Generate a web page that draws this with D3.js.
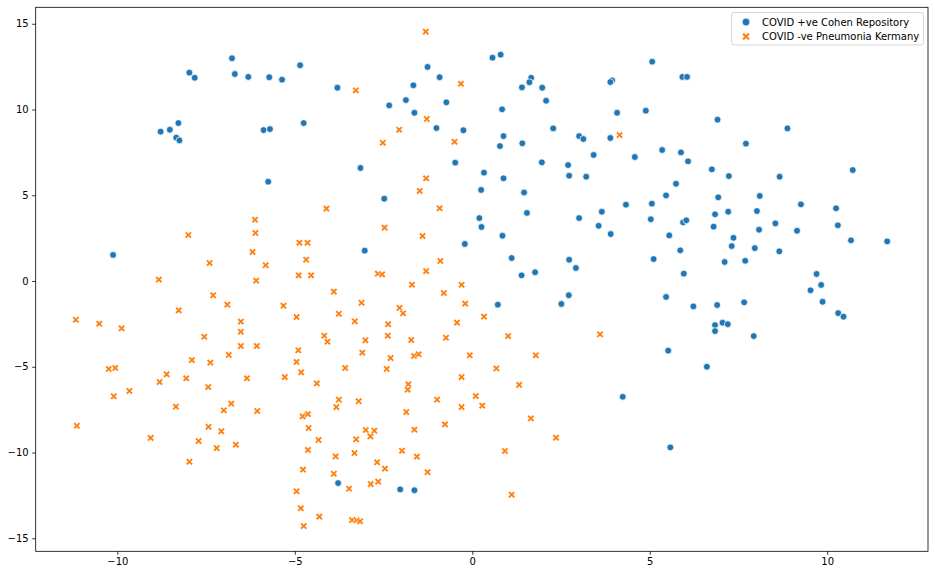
<!DOCTYPE html>
<html>
<head>
<meta charset="utf-8">
<script src="https://cdn.jsdelivr.net/npm/d3@7"></script>
<style>
  html, body { margin: 0; padding: 0; background: #fff; }
  svg { display: block; font-family: "DejaVu Sans", sans-serif; }
</style>
</head>
<body>
<svg id="chart" width="935" height="575"></svg>
<script>
// ---- Data ----
const seriesNames = ["COVID +ve Cohen Repository", "COVID -ve Pneumonia Kermany"];
const xTicks = [-10, -5, 0, 5, 10];
const yTicks = [-15, -10, -5, 0, 5, 10, 15];

const positiveX = [-6.77,-7.97,-7.82,-6.69,-6.31,-5.72,-5.36,-4.85,-3.80,-8.28,-8.52,-8.78,-8.34,-8.25,-5.88,-5.70,-4.75,-5.75,
  -1.26,-0.92,0.57,0.80,1.66,1.61,1.40,1.97,2.08,3.94,3.89,4.08,-1.66,-1.87,-2.34,-0.73,-1.63,-1.01,-0.25,0.84,2.28,0.88,0.78,1.41,
  3.01,3.13,3.89,3.42,1.96,2.70,2.73,3.21,-3.15,-0.48,0.33,0.88,0.25,1.46,5.07,5.92,6.05,4.89,6.91,8.88,7.71,5.35,5.88,4.58,6.08,
  6.75,7.23,8.66,10.72,5.74,5.46,-2.48,0.20,0.26,1.54,3.01,3.65,4.33,3.56,3.90,-0.21,0.85,-3.03,1.11,2.73,2.92,1.39,1.77,2.72,2.51,
  0.72,5.06,6.93,8.10,9.26,10.25,5.03,5.94,6.03,6.84,7.21,8.02,6.80,8.08,8.54,9.15,10.30,5.55,7.36,7.31,7.96,8.65,10.67,11.69,5.86,
  5.11,7.11,7.69,5.96,9.70,9.83,9.53,9.87,5.46,6.23,6.90,7.66,10.31,10.46,6.84,7.05,7.20,6.84,7.93,5.52,6.61,-10.12,-3.78,-2.03,-1.63,
  4.24,5.58];
const positiveY = [12.99,12.15,11.85,12.07,11.90,11.88,11.74,12.58,11.27,9.21,8.82,8.71,8.36,8.20,8.80,8.86,9.21,5.79,
  12.48,11.88,13.02,13.20,11.85,11.59,11.29,11.27,10.51,11.70,11.60,9.81,11.41,10.55,10.24,10.42,9.81,8.92,8.79,10.01,8.90,8.45,7.87,8.03,
  8.45,8.28,8.34,7.35,6.92,6.76,6.14,6.08,6.59,6.90,6.32,5.99,5.31,5.16,12.79,11.90,11.90,9.93,9.41,8.90,8.01,7.64,7.50,7.23,6.98,
  6.51,6.12,6.08,6.47,5.67,4.99,4.80,3.67,3.15,3.97,3.67,4.04,4.45,3.22,2.74,2.16,2.64,1.77,1.34,1.24,0.76,0.33,0.51,-0.83,-1.34,
  -1.38,4.51,4.88,4.96,4.47,4.24,3.60,3.42,3.54,3.89,4.04,4.08,3.17,2.99,3.36,2.93,3.25,2.66,2.52,2.04,1.92,1.73,2.37,2.31,1.79,
  1.28,1.11,1.18,0.43,0.41,-0.23,-0.54,-1.21,-0.93,-1.48,-1.40,-1.24,-1.87,-2.08,-2.57,-2.43,-2.52,-2.92,-3.21,-4.06,-5.00,1.52,-11.78,-12.15,-12.20,
  -6.75,-9.70];

const negativeX = [-1.31,-3.28,-0.32,4.15,-1.28,-2.06,-2.52,-0.50,-1.30,-1.48,-4.11,-6.12,-6.11,-8.00,-4.87,-4.64,-6.19,-4.68,-7.40,-5.82,
  -8.83,-6.09,-4.89,-4.54,-3.90,-7.30,-6.90,-5.32,-8.27,-4.95,-11.17,-10.51,-9.88,-6.52,-6.52,-7.55,-4.17,-4.08,-6.52,-6.07,-4.90,-6.86,
  -7.90,-7.38,-4.95,-10.24,-10.06,-0.92,-2.47,-1.40,-0.90,-1.30,-2.66,-2.54,-1.70,-0.30,-0.80,-3.12,-0.20,-3.76,-2.05,-1.95,-3.31,-2.37,
  -0.43,0.33,-2.38,-0.74,1.01,3.60,-3.01,-1.72,-3.10,-2.30,-1.64,-1.51,-0.07,1.79,-3.58,-2.41,0.68,-8.61,-8.81,-8.06,-7.44,-6.35,-5.28,
  -4.82,-4.38,-10.10,-9.66,-8.35,-6.79,-7.00,-6.06,-4.78,-4.63,-3.83,-11.14,-7.43,-7.07,-4.61,-9.06,-7.71,-7.20,-6.66,-4.33,-4.63,-3.85,
  -7.97,-4.77,-3.90,-4.95,-4.83,-4.31,-4.75,-0.30,1.32,-1.80,-1.82,-3.76,-3.20,-0.99,0.10,0.28,-0.30,-1.86,1.65,-0.77,-3.00,-2.76,-2.87,
  -1.63,-3.27,2.36,-3.32,-1.98,-1.56,0.92,-2.68,-2.46,-1.26,-3.47,-2.86,-2.65,1.11,-3.39,-3.26,-3.16];
const negativeY = [14.54,11.12,11.50,8.51,9.45,8.82,8.06,8.12,5.99,5.25,4.22,3.57,2.80,2.68,2.23,2.23,1.69,1.24,1.05,0.92,
  0.08,0.02,0.33,0.33,-0.62,-0.83,-1.38,-1.44,-1.71,-2.10,-2.26,-2.49,-2.76,-2.37,-2.96,-3.25,-3.19,-3.54,-3.79,-3.79,-4.04,-4.31,
  -4.61,-4.76,-4.72,-5.13,-5.07,4.24,3.11,2.62,1.17,0.58,0.43,0.39,-0.22,-0.22,-0.70,-1.27,-1.32,-1.91,-1.57,-1.88,-2.35,-2.52,
  -2.43,-2.08,-3.19,-3.31,-3.21,-3.11,-3.46,-3.44,-4.18,-4.49,-4.37,-4.27,-4.33,-4.33,-5.07,-5.13,-5.10,-5.44,-5.89,-5.67,-6.18,-5.67,-5.60,
  -5.32,-5.97,-6.72,-6.41,-7.33,-7.15,-7.54,-7.58,-7.89,-7.76,-7.35,-8.44,-8.50,-8.76,-8.57,-9.15,-9.33,-9.74,-9.55,-9.27,-9.85,-10.23,
  -10.54,-11.00,-11.24,-12.26,-13.25,-13.74,-14.29,-5.60,-6.06,-6.02,-6.34,-6.92,-7.01,-6.92,-6.71,-7.27,-7.35,-7.64,-8.01,-8.36,-8.69,-8.73,-9.06,
  -8.67,-9.23,-9.14,-10.03,-9.90,-10.24,-9.91,-10.57,-10.94,-11.15,-12.11,-11.84,-11.70,-12.46,-13.94,-13.94,-14.01];

const colors = ["#1f77b4", "#ff7f0e"];

// ---- Layout ----
const svg = d3.select("#chart");
const plotLeft = 35.7, plotRight = 928, plotTop = 7.3, plotBottom = 551.3;

const x = d3.scaleLinear().domain([-12.30, 12.84]).range([plotLeft, plotRight]);
const y = d3.scaleLinear().domain([-15.76, 15.96]).range([plotBottom, plotTop]);

const positive = positiveX.map((v, i) => ({x: v, y: positiveY[i]}));
const negative = negativeX.map((v, i) => ({x: v, y: negativeY[i]}));

// Filled "X" marker path (matplotlib 'X')
function xPath(L, w) {
  const pts = [[w,L],[w,w],[L,w],[L,-w],[w,-w],[w,-L],[-w,-L],[-w,-w],[-L,-w],[-L,w],[-w,w],[-w,L]];
  const c = Math.SQRT1_2;
  return "M" + pts.map(([a,b]) => [(a - b) * c, (a + b) * c].map(v => v.toFixed(3)).join(",")).join("L") + "Z";
}
const xMarker = xPath(3.9, 1.15);

// points
const g = svg.append("g");
g.selectAll("circle.pos").data(positive).join("circle")
  .attr("class", "pos")
  .attr("cx", d => x(d.x)).attr("cy", d => y(d.y))
  .attr("r", 3.4)
  .attr("fill", colors[0])
  .attr("stroke", "#fff").attr("stroke-width", 0.75);

g.selectAll("path.neg").data(negative).join("path")
  .attr("class", "neg")
  .attr("transform", d => `translate(${x(d.x)},${y(d.y)})`)
  .attr("d", xMarker)
  .attr("fill", colors[1])
  .attr("stroke", "#fff").attr("stroke-width", 0.6);

// axes
const fmt = d3.format("d");
const xAxis = svg.append("g")
  .attr("transform", `translate(0,${plotBottom})`)
  .call(d3.axisBottom(x).tickValues(xTicks).tickSize(3.5).tickPadding(3.5).tickFormat(d => fmt(d)));
const yAxis = svg.append("g")
  .attr("transform", `translate(${plotLeft},0)`)
  .call(d3.axisLeft(y).tickValues(yTicks).tickSize(3.5).tickPadding(3.5).tickFormat(d => fmt(d)));

[xAxis, yAxis].forEach(a => {
  a.select(".domain").remove();
  a.selectAll(".tick line").attr("stroke", "#000").attr("stroke-width", 0.8);
  a.selectAll(".tick text").attr("fill", "#000")
    .style("font-family", "'DejaVu Sans', sans-serif").style("font-size", "10px");
});

// frame
svg.append("rect")
  .attr("x", plotLeft).attr("y", plotTop)
  .attr("width", plotRight - plotLeft).attr("height", plotBottom - plotTop)
  .attr("fill", "none").attr("stroke", "#000").attr("stroke-width", 0.8);

// legend
const lg = svg.append("g").attr("transform", "translate(731.5,12.5)");
lg.append("rect")
  .attr("width", 192).attr("height", 32.5).attr("rx", 2.5)
  .attr("fill", "#fff").attr("fill-opacity", 0.8)
  .attr("stroke", "#cccccc").attr("stroke-width", 0.8);
seriesNames.forEach((name, i) => {
  const row = lg.append("g").attr("transform", `translate(0,${9.5 + i * 14.5})`);
  if (i === 0) {
    row.append("circle").attr("cx", 14.5).attr("cy", 0).attr("r", 3.9)
      .attr("fill", colors[0]).attr("stroke", "#fff").attr("stroke-width", 0.75);
  } else {
    row.append("path").attr("transform", "translate(14.5,0)").attr("d", xPath(4.3, 1.3))
      .attr("fill", colors[1]).attr("stroke", "#fff").attr("stroke-width", 0.6);
  }
  row.append("text").attr("x", 30.5).attr("y", 0).attr("dy", "0.35em")
    .attr("fill", "#000").style("font-size", "10px").text(name);
});
</script>
</body>
</html>
